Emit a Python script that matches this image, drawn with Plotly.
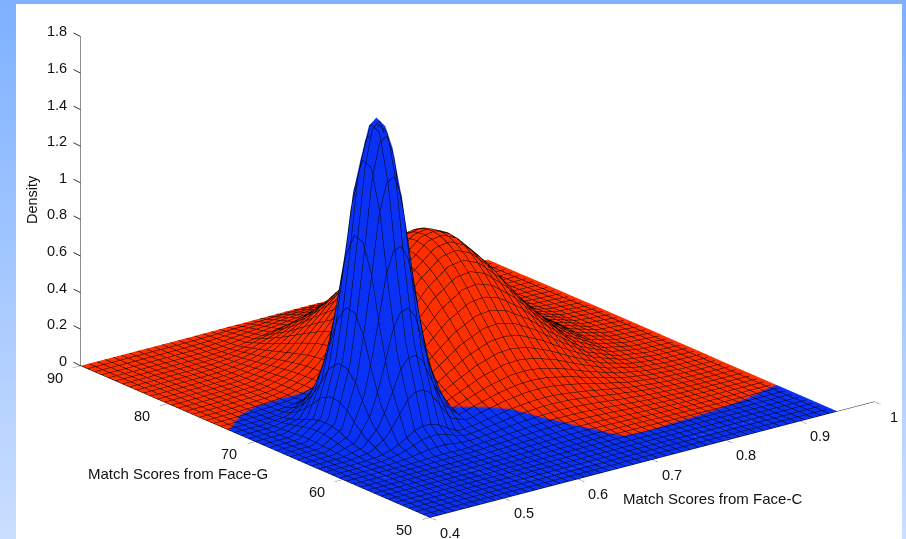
import numpy as np
import plotly.graph_objects as go

# Face-C scores (columns) and Face-G scores (rows) of the estimated surface
face_c = [0.40,0.44,0.47,0.49,0.50,0.51,0.52,0.53,0.54,0.55,0.56,0.57,0.58,0.60,0.62,0.65,0.68,0.70,0.72,0.75,0.78,0.82,0.86,0.90,0.95]
face_g = [50,52,54,55,56,57,58,60,62,64,65,66,67,68,69,70,71,72,73,74,75,76,77,78,80,83,86,90]

# density, one row per Face-G score
density = [
 [0]*25,
 [0,0,0,0,0,0,0,0,0,0,0,0,0,0,0,0,.001,.001,.001,.001,0,0,0,0,0],
 [0,0,0,0,0,0,0,0,0,0,.001,.001,.001,.002,.002,.003,.003,.003,.003,.003,.002,.001,0,0,0],
 [0,0,0,0,0,0,0,0,0,.001,.001,.001,.002,.003,.003,.005,.006,.006,.005,.004,.003,.001,.001,0,0],
 [0,0,0,0,0,0,0,0,.001,.001,.002,.002,.003,.004,.005,.007,.009,.009,.008,.007,.005,.002,.001,0,0],
 [0,0,0,0,0,0,0,.001,.001,.002,.002,.003,.004,.006,.009,.012,.014,.014,.013,.011,.007,.004,.001,0,0],
 [0,0,0,0,0,.001,.001,.001,.002,.003,.004,.005,.007,.010,.013,.018,.021,.021,.020,.016,.011,.005,.002,.001,0],
 [0,0,.001,.003,.005,.007,.010,.011,.011,.010,.008,.011,.015,.022,.029,.040,.046,.047,.045,.036,.025,.012,.004,.001,0],
 [0,0,.006,.027,.046,.069,.095,.108,.110,.101,.078,.055,.034,.043,.057,.079,.092,.094,.089,.072,.050,.024,.009,.002,0],
 [0,.001,.031,.132,.226,.341,.465,.530,.541,.498,.386,.270,.167,.077,.103,.141,.165,.168,.160,.130,.089,.043,.016,.004,0],
 [0,.002,.053,.226,.387,.583,.796,.907,.926,.852,.661,.462,.285,.099,.133,.183,.214,.218,.207,.168,.116,.055,.020,.006,.001],
 [0,.003,.079,.337,.578,.871,1.189,1.355,1.382,1.272,.987,.690,.426,.125,.168,.230,.270,.275,.260,.211,.146,.070,.025,.007,.001],
 [0,.004,.094,.400,.686,1.033,1.411,1.608,1.640,1.509,1.171,.819,.505,.154,.207,.284,.332,.338,.321,.260,.180,.086,.031,.009,.001],
 [0,.004,.095,.406,.696,1.049,1.432,1.632,1.665,1.532,1.189,.831,.513,.184,.248,.340,.398,.406,.384,.312,.215,.103,.037,.010,.001],
 [0,.003,.083,.353,.606,.913,1.246,1.420,1.449,1.333,1.034,.723,.446,.216,.290,.399,.467,.476,.451,.366,.252,.121,.044,.012,.001],
 [0,.002,.058,.246,.422,.637,.869,.991,1.011,.930,.722,.504,.311,.248,.332,.456,.534,.545,.516,.419,.289,.139,.050,.014,.001],
 [0,.002,.035,.149,.255,.384,.524,.597,.609,.561,.435,.304,.191,.277,.371,.509,.597,.608,.576,.467,.323,.155,.056,.016,.002],
 [0,.002,.018,.076,.129,.195,.266,.304,.310,.285,.221,.155,.208,.301,.404,.555,.650,.662,.627,.509,.351,.168,.061,.017,.002],
 [0,.002,.008,.032,.056,.084,.115,.131,.133,.123,.120,.162,.221,.320,.429,.589,.690,.704,.666,.541,.373,.179,.065,.018,.002],
 [0,.002,.007,.012,.019,.029,.040,.047,.066,.092,.124,.168,.229,.332,.446,.612,.716,.730,.692,.561,.387,.186,.067,.019,.002],
 [0,.002,.007,.012,.015,.022,.033,.048,.067,.093,.126,.170,.232,.336,.451,.619,.725,.739,.700,.568,.392,.188,.068,.019,.002],
 [0,.002,.007,.012,.015,.022,.033,.047,.066,.092,.124,.168,.229,.332,.446,.612,.716,.730,.692,.561,.387,.186,.067,.019,.002],
 [0,.002,.007,.011,.014,.021,.031,.046,.064,.089,.120,.162,.221,.320,.429,.589,.690,.704,.666,.541,.373,.179,.065,.018,.002],
 [0,.002,.007,.011,.013,.020,.030,.043,.060,.083,.113,.152,.208,.301,.404,.555,.650,.662,.627,.509,.351,.168,.061,.017,.002],
 [0,.002,.005,.008,.010,.015,.023,.034,.047,.065,.088,.119,.162,.235,.316,.433,.508,.517,.490,.398,.274,.132,.048,.013,.001],
 [0,.001,.003,.004,.006,.008,.013,.018,.025,.035,.048,.065,.088,.128,.171,.235,.276,.281,.266,.216,.149,.071,.026,.007,.001],
 [0,0,.001,.001,.002,.003,.004,.006,.008,.011,.015,.020,.028,.040,.054,.074,.087,.089,.084,.068,.047,.023,.008,.002,0],
 [0,0,0,0,0,0,0,0,0,0,.001,.001,.001,.002,.002,.003,.004,.004,.004,.003,.002,.001,0,0,0],
]

# Face-G score at which the surface turns from blue to red, per Face-C score
red_from = [73,75,75.6,75.5,75.5,75.3,75,74.8,74.5,74,73.5,72.5,70.5,64.6,63.5,62,59.5,57.6,55,54.8,55,55.2,55.5,56,57]
side = np.array(face_g)[:,None] - np.array(red_from)[None,:]

x_ticks = [0.4,0.5,0.6,0.7,0.8,0.9,1]
y_ticks = [50,60,70,80,90]
z_ticks = [0,0.2,0.4,0.6,0.8,1,1.2,1.4,1.6,1.8]
z_labels = ['0','0.2','0.4','0.6','0.8','1','1.2','1.4','1.6','1.8']

BLUE='#0a32f5'; RED='#ff3000'
fig = go.Figure(go.Surface(
    x=face_c, y=face_g, z=density, surfacecolor=side, cmin=-40, cmax=40,
    colorscale=[[0,BLUE],[0.5,BLUE],[0.5,RED],[1,RED]], showscale=False, hoverinfo='skip',
    lighting=dict(ambient=1,diffuse=0,specular=0,roughness=1,fresnel=0),
    contours=dict(
        x=dict(show=True,start=0.4001,end=0.9499,size=0.011,color='black',width=1),
        y=dict(show=True,start=50.01,end=89.99,size=0.8,color='black',width=1),
        z=dict(show=False)),
))
tick_font=dict(family='Liberation Sans',size=14.5,color='#111')
title_font=dict(family='Liberation Sans',size=15,color='#111')
common=dict(showbackground=False,showgrid=False,zeroline=False,showline=True,linecolor='#222',linewidth=1,
            ticks='outside',ticklen=10,tickcolor='#333',tickwidth=1,showticklabels=False,title=dict(text=''),showspikes=False)
labels=[]
for v in x_ticks:
    labels.append(dict(x=v,y=50,z=0,text=str(v),showarrow=False,xshift=20,yshift=-15,font=tick_font))
for v in y_ticks:
    labels.append(dict(x=0.4,y=v,z=0,text=str(v),showarrow=False,xshift=-26,yshift=-12,font=tick_font))
for v,t in zip(z_ticks,z_labels):
    labels.append(dict(x=0.4,y=90,z=v,text=t,showarrow=False,xanchor='right',xshift=-12,yshift=5,font=tick_font))
    labels.append(dict(x=0.4,y=90,z=v,text=' ',showarrow=True,arrowhead=0,arrowwidth=1,arrowcolor='#333',ax=-10,ay=-5,standoff=0))
k=2.086
S=221.4*2.543/k
R=np.array([.7905,-.6124,0.]); U=np.array([.2061,.266,.9417])
C=(R*(-24.5)+U*(-50.5))/S
d=np.array([-.5767,-.7444,.3365])*6
E=C+d
fig.update_layout(
    width=906,height=539,margin=dict(l=0,r=0,t=0,b=0),paper_bgcolor='white',showlegend=False,
    scene=dict(
        domain=dict(x=[0,1],y=[0,1]),
        bgcolor='rgba(0,0,0,0)',
        aspectmode='manual',aspectratio=dict(x=1*k,y=1.015*k,z=0.622*k),
        camera=dict(projection=dict(type='orthographic'),eye=dict(x=E[0],y=E[1],z=E[2]),up=dict(x=0,y=0,z=1),center=dict(x=C[0],y=C[1],z=C[2])),
        xaxis=dict(range=[0.4,1],tickvals=x_ticks,**common),
        yaxis=dict(range=[50,90],tickvals=y_ticks,**common),
        zaxis={**dict(range=[0,1.8001],tickvals=z_ticks,**common),'ticks':''},
        annotations=labels,
    ),
    annotations=[
      dict(text='Density',x=32/906,y=1-200/539,xref='paper',yref='paper',textangle=-90,showarrow=False,font=tick_font,xanchor='center',yanchor='middle'),
      dict(text='Match Scores from Face-G',x=178/906,y=1-473/539,xref='paper',yref='paper',showarrow=False,font=title_font,xanchor='center',yanchor='middle'),
      dict(text='Match Scores from Face-C',x=712/906,y=1-498/539,xref='paper',yref='paper',showarrow=False,font=title_font,xanchor='center',yanchor='middle'),
    ],
)
shapes=[]
n=60
for i in range(n):
    t=i/(n-1)
    col=f'rgb({int(126+76*t)},{int(178+44*t)},255)'
    y1=1-i/n
    shapes.append(dict(type='rect',xref='paper',yref='paper',x0=0,x1=16/906,y0=0,y1=y1,fillcolor=col,line_width=0,layer='below'))
    shapes.append(dict(type='rect',xref='paper',yref='paper',x0=902/906,x1=1,y0=0,y1=y1,fillcolor=col,line_width=0,layer='below'))
shapes.append(dict(type='rect',xref='paper',yref='paper',x0=0,x1=1,y0=1-4/539,y1=1,fillcolor='rgb(126,178,255)',line_width=0,layer='below'))
fig.update_layout(shapes=shapes)
fig.write_html('out.html',post_script="document.body.style.margin='0';",config={'displayModeBar':False})
